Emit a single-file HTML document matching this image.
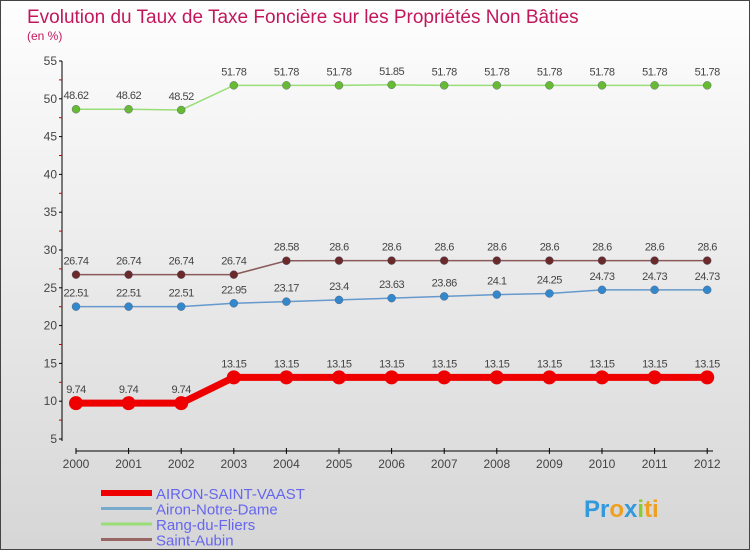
<!DOCTYPE html>
<html><head><meta charset="utf-8"><style>
body{margin:0;}
#c{width:748px;height:548px;border:1px solid #444;background:linear-gradient(#fefefe,#d6d6d6);position:relative;font-family:"Liberation Sans",sans-serif;overflow:hidden}
svg{position:absolute;left:0;top:0}
</style></head><body>
<div id="c">
<svg id="s" width="750" height="550">
<text x="26" y="22" font-size="19" fill="#c2185b">Evolution du Taux de Taxe Foncière sur les Propriétés Non Bâties</text>
<text x="26" y="39" font-size="12" fill="#c2185b">(en %)</text>
</svg>
</div>
<script>
const years=[2000,2001,2002,2003,2004,2005,2006,2007,2008,2009,2010,2011,2012];
const yTicks=[5,10,15,20,25,30,35,40,45,50,55];
const aironSaintVaast=[9.74,9.74,9.74,13.15,13.15,13.15,13.15,13.15,13.15,13.15,13.15,13.15,13.15];
const aironNotreDame=[22.51,22.51,22.51,22.95,23.17,23.4,23.63,23.86,24.1,24.25,24.73,24.73,24.73];
const rangDuFliers=[48.62,48.62,48.52,51.78,51.78,51.78,51.85,51.78,51.78,51.78,51.78,51.78,51.78];
const saintAubin=[26.74,26.74,26.74,26.74,28.58,28.6,28.6,28.6,28.6,28.6,28.6,28.6,28.6];
const seriesNames=["AIRON-SAINT-VAAST","Airon-Notre-Dame","Rang-du-Fliers","Saint-Aubin"];
const NS="http://www.w3.org/2000/svg",s=document.getElementById('s');
const X=i=>75+i*52.6, Y=v=>438-(v-5)*7.56;
function mk(t,a,p){const e=document.createElementNS(NS,t);for(const k in a)e.setAttribute(k,a[k]);(p||s).appendChild(e);return e;}
let ya=mk('line',{x1:61,y1:60,x2:61,y2:440,stroke:'#000'});

let xa=mk('line',{x1:75,y1:450,x2:712,y2:450,stroke:'#000'});

yTicks.forEach(v=>{mk('line',{x1:58,x2:61,y1:Y(v),y2:Y(v),stroke:'#000'});
 if(v<55)mk('line',{x1:58,x2:61,y1:Y(v+2.5),y2:Y(v+2.5),stroke:'#c00'});
 const t=mk('text',{x:56,y:Y(v)+4,'font-size':12,fill:'#444','text-anchor':'end'});t.textContent=v;
 });
years.forEach((y,i)=>{mk('line',{x1:X(i),x2:X(i),y1:447,y2:453,stroke:'#000'});
 const t=mk('text',{x:X(i),y:467,'font-size':12,fill:'#444','text-anchor':'middle'});t.textContent=y;
 });
const defs=[[rangDuFliers,'#99dd77','#66bb33',1.5,4,'series-rang-du-fliers'],[saintAubin,'#8a5a5a','#6b2a2a',1.5,4,'series-saint-aubin'],[aironNotreDame,'#6699cc','#3388cc',1.5,4,'series-airon-notre-dame'],[aironSaintVaast,'#ee0000','#ee0000',7,7,'series-airon-saint-vaast']];
defs.forEach(([d,lc,pc,w,r,n])=>{const g=mk('g',{});
 mk('polyline',{points:d.map((v,i)=>X(i)+','+Y(v)).join(' '),fill:'none',stroke:lc,'stroke-width':w},g);
 d.forEach((v,i)=>{const c=mk('circle',{cx:X(i),cy:Y(v),r:r,fill:pc,stroke:r>5?'none':'#557',"stroke-width":0.4},g);
  
  const t=mk('text',{x:X(i),y:Y(v)-10,'font-size':11,fill:'#444','text-anchor':'middle','letter-spacing':'-0.5'},g);t.textContent=v;
  });});
const lc=['#ee0000','#77aacc','#99dd77','#996666'],lw=[6,3,3,3];
seriesNames.forEach((n,i)=>{const y=492+i*15.5;const g=mk('g',{});
 mk('line',{x1:100,x2:151,y1:y,y2:y,stroke:lc[i],'stroke-width':lw[i]},g);
 const t=mk('text',{x:155,y:y+6,'font-size':15,fill:'#6666ee'},g);t.textContent=n;});
const lg=mk('text',{x:583,y:516,'font-size':24,'font-weight':'bold',fill:'#f0a020'});

[['Pr','#3399dd'],['o','#f0a020'],['x','#3399dd'],['i','#88cc33'],['ti','#f0a020']].forEach(([t,c])=>{const sp=mk('tspan',{fill:c},lg);sp.textContent=t;});
</script>
</body></html>
